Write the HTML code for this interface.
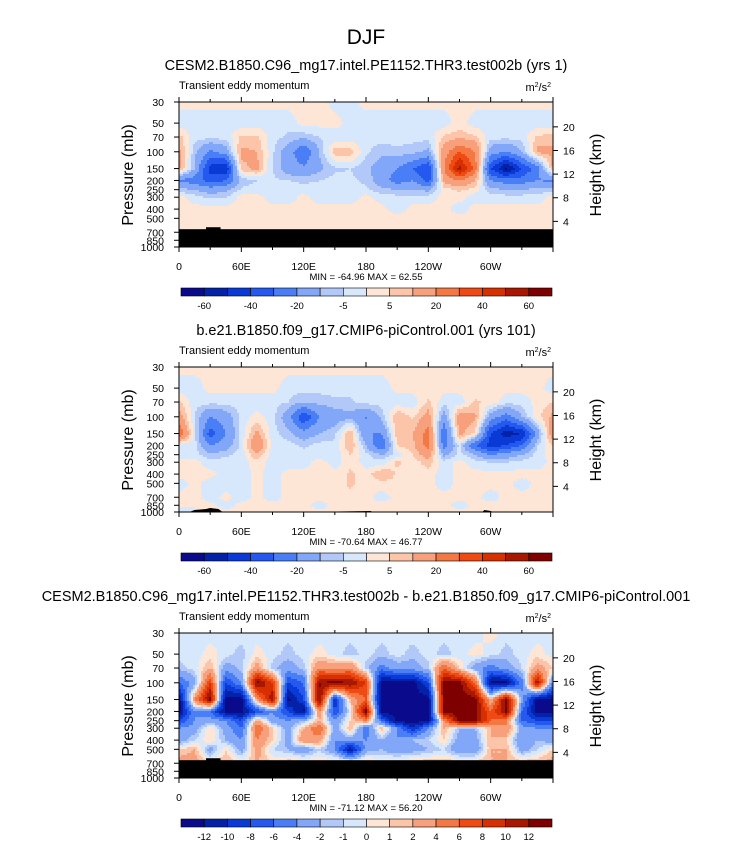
<!DOCTYPE html>
<html><head><meta charset="utf-8">
<style>
body{margin:0;background:#fff;}
svg text{font-family:"Liberation Sans",sans-serif;fill:#000;}
</style></head>
<body>
<svg id="chart" width="732" height="842" viewBox="0 0 732 842" xmlns="http://www.w3.org/2000/svg">
<text x="366" y="44" font-size="21" text-anchor="middle">DJF</text>
</svg>
<script>
const lons=[0,15,30,45,60,75,90,105,120,135,150,165,180,195,210,225,240,255,270,285,300,315,330,345,360];
const pLevels=[30,50,70,100,150,200,250,300,400,500,700,850,1000];
const xTickLabels=["0","60E","120E","180","120W","60W"];
const xTickLons=[0,60,120,180,240,300];
const pTickLabels=[30,50,70,100,150,200,250,300,400,500,700,850,1000];
const hTickLabels=[20,16,12,8,4];
const contour1=[-60,-50,-40,-30,-20,-10,-5,0,5,10,20,30,40,50,60];
const contour1Labels=["-60","","-40","","-20","","-5","","5","","20","","40","","60"];
const contour3=[-12,-10,-8,-6,-4,-2,-1,0,1,2,4,6,8,10,12];
const contour3Labels=["-12","-10","-8","-6","-4","-2","-1","0","1","2","4","6","8","10","12"];
const colors=["#0a0a8c","#0422a8","#0a3ad6","#2458ee","#4a7ef6","#82a6f8","#b2c8f8","#d8e8fc","#fee6d6","#fcc4a8","#f8a07c","#f47844","#f04a14","#d63000","#a81800","#7e0000"];
const titles=["CESM2.B1850.C96_mg17.intel.PE1152.THR3.test002b (yrs 1)","b.e21.B1850.f09_g17.CMIP6-piControl.001 (yrs 101)","CESM2.B1850.C96_mg17.intel.PE1152.THR3.test002b - b.e21.B1850.f09_g17.CMIP6-piControl.001"];
const minMax=["MIN = -64.96  MAX =  62.55","MIN = -70.64  MAX =  46.77","MIN = -71.12  MAX =  56.20"];
const p1Values=[
[2,2,2,2,2,2,2,2,2,2,-2,-2,2,2,2,2,2,2,2,2,2,2,2,2,2],
[-3,-3,-3,-3,-3,-3,-3,-3,2,2,2,-2,-3,-3,-3,-3,-3,-3,3,-3,-3,-3,-3,-3,-3],
[7,-3,-3,-3,6,6,-3,-6,-8,-5,-3,-3,-3,-3,-3,-3,-3,6,8,6,-3,-3,-3,6,7],
[12,-8,-22,-15,12,10,-4,-15,-30,-10,8,8,-4,-8,-6,-8,-12,15,30,20,-15,-20,-10,12,12],
[12,-10,-45,-50,8,12,-5,-15,-18,-12,-6,-5,-8,-15,-20,-30,-40,20,55,25,-40,-62,-40,-25,12],
[-22,-25,-35,-30,-8,-5,-4,-5,-6,-5,-3,-4,-6,-15,-25,-20,-35,12,20,10,-20,-25,-25,-20,-22],
[-8,-10,-15,-12,-4,-3,-3,-3,-3,-4,-3,-3,-4,-8,-10,-10,-12,3,6,3,-8,-10,-10,-8,-8],
[2,-3,-6,-5,2,2,-3,-3,2,-3,-3,-3,2,-3,-3,-3,-3,2,2,-3,-3,-3,-3,-3,2],
[2,2,2,2,2,2,2,2,2,2,2,2,2,2,-3,2,2,2,-3,2,2,2,2,2,2],
[3,3,2,2,2,2,2,2,2,2,2,2,2,2,2,2,2,2,2,2,2,2,2,2,3],
[3,3,2,2,2,2,2,2,2,2,2,2,2,2,2,2,2,2,2,2,2,2,2,2,3],
[3,3,2,2,2,2,2,2,2,2,2,2,2,2,2,2,2,2,2,2,2,2,2,2,3],
[3,3,2,2,2,2,2,2,2,2,2,2,2,2,2,2,2,2,2,2,2,2,2,2,3]];
const p2Values=[
[2,2,2,2,2,2,2,2,2,2,2,2,2,2,2,2,2,2,2,2,2,2,2,2,2],
[-3,-3,2,2,2,2,2,-3,-3,-3,-3,-3,-3,-3,2,2,2,2,2,2,2,2,2,2,-3],
[6,-3,-3,-3,-3,-3,-3,-5,-10,-8,-6,-6,-3,-3,-3,-3,6,-3,-3,6,3,-3,-3,2,5],
[15,-5,-20,-15,-3,2,-3,-15,-40,-20,-15,-12,-20,-8,10,4,14,-15,15,12,-15,-25,-10,3,12],
[30,-3,-35,-20,-3,12,-3,-8,-15,-10,-6,10,-20,-20,8,10,25,-30,12,4,-40,-55,-50,-15,18],
[-4,-3,-20,-15,-3,20,-3,-3,-6,-3,-4,10,-10,-30,5,8,25,-25,-3,-30,-45,-40,-30,-5,5],
[-3,-3,-8,-6,-3,10,-3,-3,-3,-3,-3,5,-3,-10,-3,5,15,-12,-3,-10,-20,-15,-10,-3,3],
[3,2,-3,-3,-3,3,-3,-3,-3,3,-3,4,-3,-3,6,2,8,-3,2,-3,-5,-5,-3,-3,2],
[2,2,2,-3,-3,2,-3,2,2,4,2,6,2,10,4,2,2,-3,2,2,2,2,2,2,2],
[-3,2,-3,-3,-3,2,-3,2,2,5,2,6,2,3,4,2,2,-3,2,2,2,2,-3,2,2],
[2,2,-3,2,-3,2,-3,2,2,3,2,4,2,-3,2,2,2,2,2,2,-3,2,2,2,2],
[2,2,2,-3,2,2,2,2,2,-3,2,2,2,2,2,2,2,2,-3,2,2,2,2,2,2],
[-3,-3,2,2,2,2,2,2,2,2,2,2,2,2,2,2,2,2,2,2,2,2,2,2,2]];
const p3Values=[
[-0.5,-0.5,-0.5,-0.5,-0.5,-0.5,-0.5,-0.5,-0.5,-0.5,-0.5,-0.5,-0.5,-0.5,-0.5,-0.5,-0.5,-0.5,-0.5,-0.5,0.5,-0.5,-0.5,-0.5,-0.5],
[-0.5,-0.5,0.5,-0.5,-1.5,0.5,-0.5,-1.5,-0.5,0.5,-0.5,-1.5,-0.5,-1.5,-0.5,-1.5,-0.5,-1.5,-0.5,0.5,-0.5,-1.5,-0.5,0.5,-0.5],
[-1.5,-0.5,2,-3,-1.5,3,-1.5,-3,-1.5,4,3,4,-1.5,-5,-3,-3,-1.5,6,1,-3,-5,-3,-1,3,1],
[-6,-3,8,-8,-4,13,8,-8,-6,12,13,12,8,-13,-13,-13,-8,13,13,6,-13,-13,-5,12,-5],
[-13,4,13,-13,-13,3,12,-13,-8,13,-10,2,6,-13,-13,-13,-13,13,13,13,2,13,-3,-13,-13],
[-13,-4,-6,-13,-13,-8,-4,-8,-13,4,-8,0,13,-13,-13,-13,-13,13,13,13,6,13,-6,-13,-13],
[-8,-4,-3,-4,-8,3,-3,-4,-2,2,-4,1,4,-6,-13,-13,-13,4,13,13,6,4,-6,-8,-8],
[-4,-3,1,-3,-6,6,1,-3,2,6,-3,2,-6,2,-4,-10,-4,2,-2,-2,2,4,-3,-4,-4],
[-3,-1,1,-2,-4,4,1,-3,4,3,-4,-3,-4,-2,-4,-2,-1,1,-3,-3,2,1,-4,-2,-3],
[1,2,-3,1,-3,3,-1,-2,-4,-1,-4,-12,-3,-2,-4,-3,-2,-1,-4,-4,2,2,-3,-1,1],
[3,3,1,2,1,2,1,2,2,1,2,2,2,1,2,2,2,2,2,2,2,2,2,2,3],
[3,3,1,2,1,2,1,2,2,1,2,2,2,1,2,2,2,2,2,2,2,2,2,2,3],
[3,3,1,2,1,2,1,2,2,1,2,2,2,1,2,2,2,2,2,2,2,2,2,2,3]];

const NS="http://www.w3.org/2000/svg";
const svg=document.getElementById('chart');
function mk(tag,attrs,parent){const e=document.createElementNS(NS,tag);for(const k in attrs)e.setAttribute(k,attrs[k]);(parent||svg).appendChild(e);return e;}
const X0=179,X1=553,PH=145;
function xScale(lon){return X0+(lon/360)*(X1-X0);}
function yScale(p,top){return top+PH*Math.log(p/30)/Math.log(1000/30);}
function heightY(km,top){const p=1000*Math.exp(-km/7);return yScale(p,top);}
function sample(vals,lon,lp){
  let i=Math.min(lons.length-2,Math.floor(lon/15));let fx=(lon-lons[i])/15;
  const lpl=pLevels.map(p=>Math.log(p));let j=0;while(j<pLevels.length-2&&lp>lpl[j+1])j++;
  let fy=(lp-lpl[j])/(lpl[j+1]-lpl[j]);fy=Math.max(0,Math.min(1,fy));
  const a=vals[j][i],b=vals[j][i+1],c=vals[j+1][i],d=vals[j+1][i+1];
  return a*(1-fx)*(1-fy)+b*fx*(1-fy)+c*(1-fx)*fy+d*fx*fy;}
function colorIdx(v,cl){let k=0;while(k<cl.length&&v>=cl[k])k++;return k;}

function panel(n,top,vals,cl,clLabels,mask){
  const g=mk('g',{});
  
  
  const t=mk('text',{x:366,y:top-32,'font-size':14.5,'text-anchor':'middle'},g);t.textContent=titles[n];
  
  
  const s=mk('text',{x:X0,y:top-13,'font-size':11},g);s.textContent='Transient eddy momentum';
  
  
  const u=mk('text',{x:X1-2,y:top-11,'font-size':11,'text-anchor':'end'},g);u.innerHTML='m<tspan font-size="7" dy="-4">2</tspan><tspan dy="4">/s</tspan><tspan font-size="7" dy="-4">2</tspan>';
  
  
  const field=mk('g',{},g);
  
  
  const step=2;
  for(let y=top;y<top+PH;y+=step){
    const yc=y+step/2;const lp=Math.log(30)+(yc-top)/PH*Math.log(1000/30);
    let runStart=X0,runC=-1;
    for(let x=X0;x<=X1;x+=step){
      let c=-1;
      if(x<X1){const lon=(x+step/2-X0)/(X1-X0)*360;c=colorIdx(sample(vals,lon,lp),cl);}
      if(c!==runC){
        if(runC>=0){const r=mk('rect',{x:runStart,y:y,width:Math.min(x,X1)-runStart,height:Math.min(step,top+PH-y),fill:colors[runC]},field);
          
          }
        runStart=x;runC=c;}
    }
  }
  if(mask){
    const m=mk('rect',{x:X0,y:yScale(650,top),width:X1-X0,height:top+PH-yScale(650,top),fill:'#000'},g);
    
    
    const b=mk('rect',{x:xScale(26),y:yScale(620,top),width:xScale(40)-xScale(26),height:4,fill:'#000'},g);
    
    
  } else {
    const m=mk('path',{d:`M${xScale(10)} ${top+PH} L${xScale(15)} ${top+PH-2} L${xScale(26)} ${top+PH-3} L${xScale(30)} ${top+PH-4} L${xScale(38)} ${top+PH-3} L${xScale(42)} ${top+PH} Z M${xScale(120)} ${top+PH} L${xScale(185)} ${top+PH-1} L${xScale(185)} ${top+PH} Z M${xScale(292)} ${top+PH} L${xScale(294)} ${top+PH-2} L${xScale(300)} ${top+PH-1} L${xScale(302)} ${top+PH} Z`,fill:'#000'},g);
    
    
  }
  const fr=mk('rect',{x:X0,y:top,width:X1-X0,height:PH,fill:'none',stroke:'#000','stroke-width':1},g);
  
  
  for(let l=0;l<=360;l+=30){const x=xScale(l);const maj=l%60===0;const L=maj?5:3;
    mk('line',{x1:x,x2:x,y1:top+PH,y2:top+PH+L,stroke:'#000'},g);
    mk('line',{x1:x,x2:x,y1:top,y2:top-L,stroke:'#000'},g);}
  xTickLabels.forEach((lab,i)=>{const tt=mk('text',{x:xScale(xTickLons[i]),y:top+PH+23,'font-size':10.5,'text-anchor':'middle'},g);tt.textContent=lab;
    
    });
  pTickLabels.forEach(p=>{const y=yScale(p,top);mk('line',{x1:X0,x2:X0-5,y1:y,y2:y,stroke:'#000'},g);
    const tt=mk('text',{x:X0-15,y:y+4,'font-size':10.5,'text-anchor':'end'},g);tt.textContent=p;
    
    });
  hTickLabels.forEach(h=>{const y=heightY(h,top)-2;mk('line',{x1:X1,x2:X1+5,y1:y,y2:y,stroke:'#000'},g);
    const tt=mk('text',{x:X1+10,y:y+4,'font-size':10.5},g);tt.textContent=h;
    
    });
  const yl=mk('text',{x:0,y:0,'font-size':16,'text-anchor':'middle',transform:`translate(133 ${top+73}) rotate(-90)`},g);yl.textContent='Pressure (mb)';
  
  
  const yr=mk('text',{x:0,y:0,'font-size':16,'text-anchor':'middle',transform:`translate(601 ${top+73}) rotate(-90)`},g);yr.textContent='Height (km)';
  
  
  const mm=mk('text',{x:366,y:top+PH+33,'font-size':9.5,'text-anchor':'middle'},g);mm.textContent=minMax[n];
  
  
  const cb=mk('g',{},g);
  
  
  const cy=top+186,cx0=181,cw=(552-181)/16;
  colors.forEach((c,i)=>{const r=mk('rect',{x:cx0+i*cw,y:cy,width:cw,height:8,fill:c,stroke:'#000','stroke-width':0.6},cb);
    
    });
  clLabels.forEach((lab,i)=>{if(!lab)return;const tt=mk('text',{x:cx0+(i+1)*cw,y:cy+21,'font-size':9.5,'text-anchor':'middle'},cb);tt.textContent=lab;
    
    });
}
panel(0,102,p1Values,contour1,contour1Labels,true);
panel(1,367,p2Values,contour1,contour1Labels,false);
panel(2,633,p3Values,contour3,contour3Labels,true);
</script>
</body></html>
